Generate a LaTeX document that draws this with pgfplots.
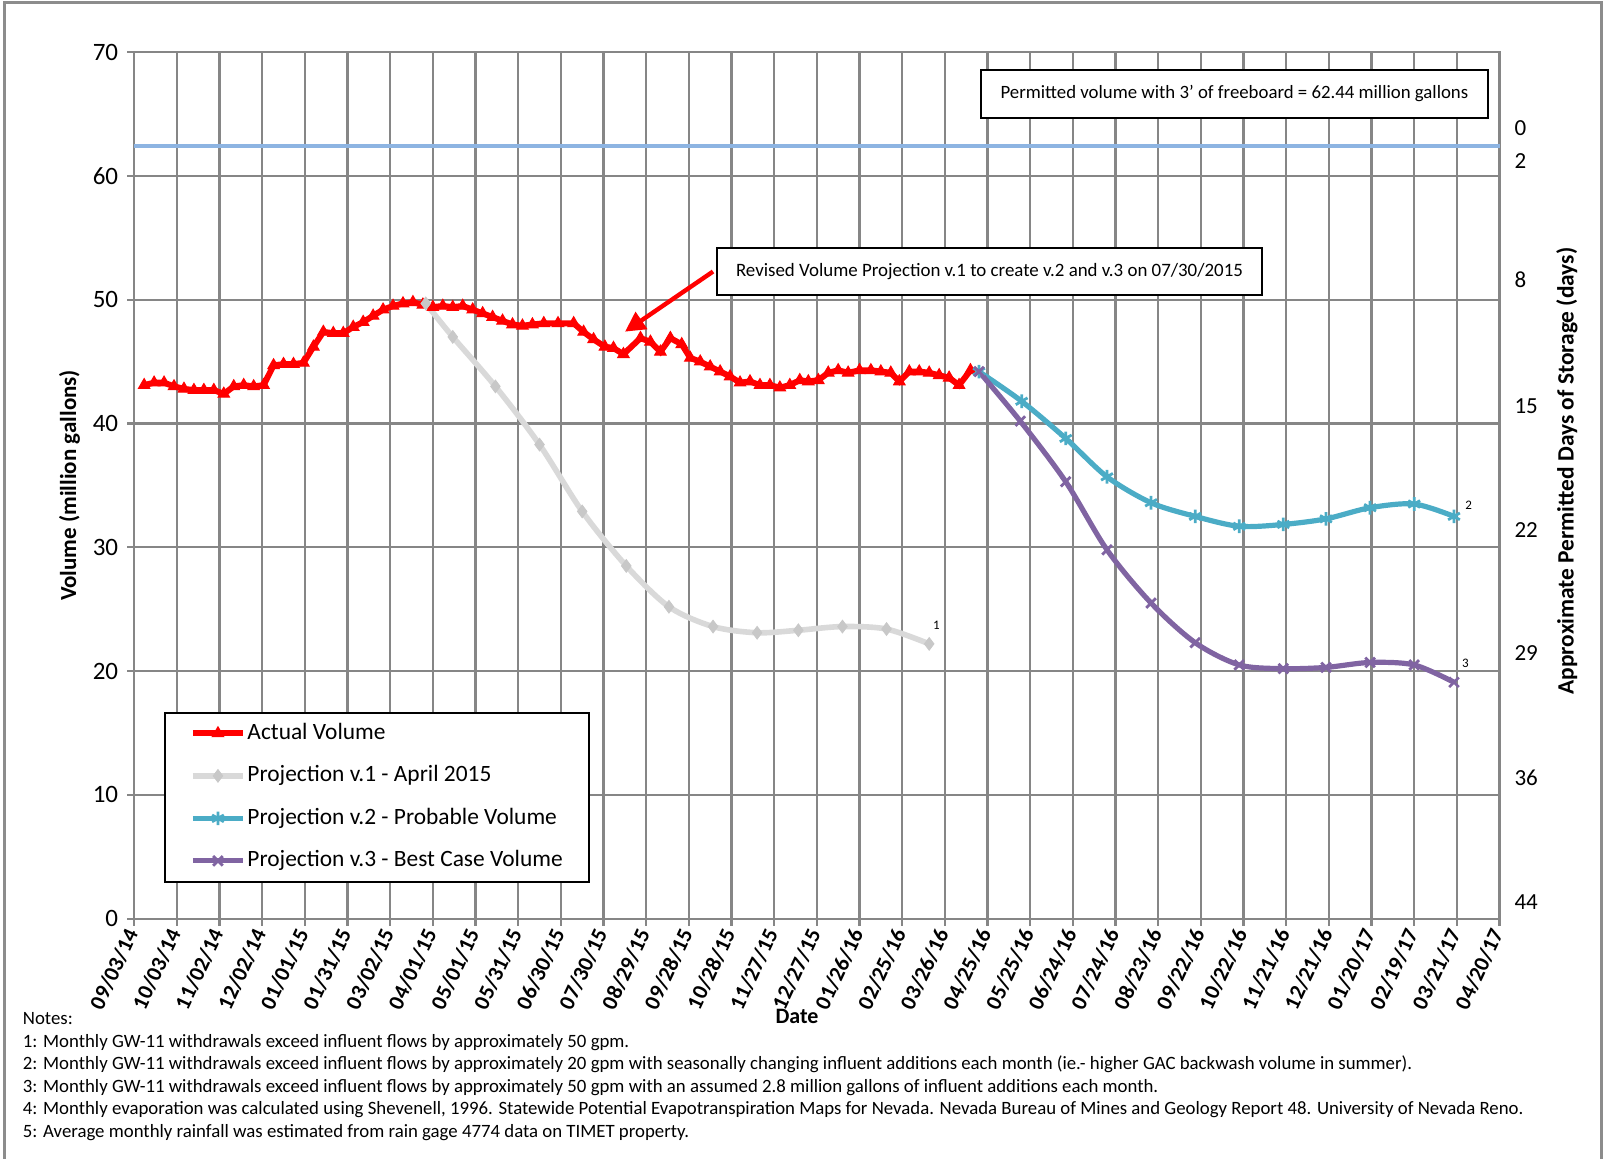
\documentclass[border=0pt]{standalone}
\usepackage{pgfplots}
\pgfplotsset{compat=1.18}
\usepackage{fontspec}
\setmainfont{Carlito}
\usetikzlibrary{arrows.meta}
\definecolor{gridgray}{RGB}{134,134,134}
\definecolor{framegray}{RGB}{140,140,140}
\definecolor{projgray}{RGB}{217,217,217}
\definecolor{projgraymark}{RGB}{200,200,200}
\definecolor{tealx}{RGB}{75,172,198}
\definecolor{purplex}{RGB}{128,100,162}
\definecolor{permblue}{RGB}{141,180,226}
\begin{document}
\begin{tikzpicture}
\useasboundingbox (-67.1pt,-120.15pt) rectangle (735.9pt,459.35pt);
\draw[framegray, line width=1.5pt] (-64.6pt,-121pt) -- (-64.6pt,457.85pt) -- (733.85pt,457.85pt) -- (733.85pt,-121pt);
\begin{axis}[
  at={(0pt,0pt)}, anchor=south west,
  scale only axis, width=682.65pt, height=433.25pt,
  xmin=0, xmax=960, ymin=0, ymax=70,
  xtick={0,30,...,960},
  xticklabels={09/03/14,10/03/14,11/02/14,12/02/14,01/01/15,01/31/15,03/02/15,04/01/15,05/01/15,05/31/15,06/30/15,07/30/15,08/29/15,09/28/15,10/28/15,11/27/15,12/27/15,01/26/16,02/25/16,03/26/16,04/25/16,05/25/16,06/24/16,07/24/16,08/23/16,09/22/16,10/22/16,11/21/16,12/21/16,01/20/17,02/19/17,03/21/17,04/20/17},
  ytick={0,10,...,70},
  grid=major,
  major grid style={draw=gridgray, line width=1.15pt},
  axis line style={draw=gridgray, line width=1.15pt},
  tick style={draw=gridgray, line width=1.15pt},
  tick align=outside, major tick length=3.5pt, tick pos=left,
  /pgf/number format/assume math mode=true,
  yticklabel style={font=\fontsize{12.5}{14}\selectfont, xshift=-1pt},
  xticklabel style={font=\bfseries\fontsize{11}{13}\selectfont, rotate=65, anchor=east, xshift=1pt},
  clip=false,
  legend style={at={(0.0218,0.2389)}, anchor=north west, draw=black, line width=1pt, fill=white,
    font=\fontsize{11.7}{13}\selectfont, inner xsep=12.5pt, inner ysep=4.1pt, row sep=8.75pt,
    nodes={inner sep=0.75pt, text height=8.5pt, text depth=2.5pt}, cells={anchor=west}},
  legend image code/.code={\draw[mark repeat=2,mark phase=2] plot coordinates {(0pt,0pt) (12.5pt,0pt) (25pt,0pt)};},
]
\addplot[permblue, line width=2pt, forget plot] coordinates {(0,62.44) (960,62.44)};
\addplot[red, line width=3pt, mark=triangle*, mark size=3.3pt, mark options={solid, line width=0.5pt}] coordinates {
(7,43.1) (14,43.3) (21,43.3) (28,43.0) (35,42.8) (42,42.7) (49,42.7) (56,42.7) (63,42.4) (70,43.0) (77,43.1) (84,43.0) (91,43.1) (98,44.7) (105,44.8) (112,44.8) (119,44.9) (126,46.2) (133,47.4) (140,47.3) (147,47.3) (154,47.8) (161,48.2) (168,48.7) (175,49.2) (182,49.5) (189,49.7) (196,49.8) (203,49.6) (210,49.4) (217,49.5) (224,49.4) (231,49.5) (238,49.2) (245,48.9) (252,48.6) (259,48.3) (266,48.0) (273,47.9) (280,48.0) (288,48.1) (298,48.1) (309,48.1) (316,47.4) (323,46.8) (331,46.2) (337,46.1) (344,45.6) (356,46.9) (363,46.6) (370,45.8) (377,46.9) (385,46.4) (391,45.3) (398,45.0) (405,44.6) (412,44.2) (419,43.8) (426,43.3) (433,43.4) (440,43.1) (447,43.1) (454,42.9) (461,43.1) (468,43.5) (474,43.4) (481,43.5) (488,44.1) (495,44.3) (502,44.1) (510,44.3) (518,44.3) (525,44.2) (532,44.1) (538,43.4) (545,44.2) (552,44.2) (559,44.1) (566,43.9) (573,43.7) (580,43.1) (588,44.3)
};
\addlegendentry{Actual Volume}
\addplot[projgray, line width=2.8pt, smooth, mark=diamond*, mark size=3.2pt, mark options={solid, draw=projgraymark, fill=projgraymark, line width=0.4pt}] coordinates {
(205,49.7) (224,47.0) (254,43.0) (285,38.3) (315,32.9) (346,28.5) (376,25.2) (407,23.6) (438,23.1) (467,23.3) (498,23.6) (529,23.4) (559,22.2)
};
\addlegendentry{Projection v.1 - April 2015}
\addplot[tealx, line width=2.6pt, smooth, mark=asterisk, mark size=3.4pt, mark options={solid, line width=1.4pt}] coordinates {
(594,44.2) (624,41.8) (655,38.8) (684,35.7) (715,33.6) (746,32.5) (777,31.7) (808,31.85) (838,32.3) (869,33.2) (900,33.5) (928,32.5)
};
\addlegendentry{Projection v.2 - Probable Volume}
\addplot[purplex, line width=2.6pt, smooth, mark=x, mark size=3.4pt, mark options={solid, line width=1.4pt}] coordinates {
(594,44.2) (623,40.2) (655,35.3) (684,29.8) (715,25.5) (746,22.3) (777,20.5) (808,20.2) (838,20.3) (869,20.7) (900,20.5) (928,19.1)
};
\addlegendentry{Projection v.3 - Best Case Volume}
\node[draw=black, line width=1pt, fill=white, minimum width=253.5pt, minimum height=24.1pt, inner sep=0pt, font=\fontsize{9.4}{11}\selectfont] at (axis cs:773.6,66.65) {Permitted volume with 3' of freeboard = 62.44 million gallons};
\node[draw=black, line width=1pt, fill=white, minimum width=272.5pt, minimum height=23.55pt, inner sep=0pt, font=\fontsize{9.45}{11}\selectfont] at (axis cs:601.4,52.285) {Revised Volume Projection v.1 to create v.2 and v.3 on 07/30/2015};
\draw[red, line width=2.2pt, -{Triangle[length=10pt,width=10pt]}] (axis cs:407,52.28) -- (axis cs:345.1,47.42);
\node[font=\fontsize{6.5}{7}\selectfont] at (axis cs:564,23.7) {1};
\node[font=\fontsize{6.5}{7}\selectfont] at (axis cs:938.3,33.4) {2};
\node[font=\fontsize{6.5}{7}\selectfont] at (axis cs:936,20.6) {3};
\end{axis}
\begin{axis}[
  at={(0pt,0pt)}, anchor=south west,
  scale only axis, width=682.65pt, height=433.25pt,
  xmin=0, xmax=960, ymin=0, ymax=70,
  hide x axis, axis y line*=right,
  y axis line style={draw=none}, ytick style={draw=none}, major tick length=0pt,
  ytick={63.87,61.23,51.58,41.37,31.36,21.44,11.35,1.32},
  yticklabels={0,2,8,15,22,29,36,44},
  yticklabel style={font=\fontsize{11.5}{13}\selectfont, xshift=4pt},
]
\addplot[draw=none] coordinates {(0,0) (960,70)};
\end{axis}
\node[rotate=90, font=\bfseries\fontsize{11.5}{13}\selectfont] at (-32.3pt,216.6pt) {Volume (million gallons)};
\node[rotate=90, font=\bfseries\fontsize{11.7}{13}\selectfont] at (716.4pt,223.85pt) {Approximate Permitted Days of Storage (days)};
\node[font=\bfseries\fontsize{11}{13}\selectfont] at (331.4pt,-48.65pt) {Date};
\begin{scope}[every node/.style={anchor=base west, inner sep=0pt, font=\fontsize{9.4}{11}\selectfont}]
\node at (-55.85pt,-53.15pt) {Notes:};
\node at (-55.85pt,-64.45pt) {1: Monthly GW-11 withdrawals exceed influent flows by approximately 50 gpm.};
\node at (-55.85pt,-75.65pt) {2: Monthly GW-11 withdrawals exceed influent flows by approximately 20 gpm with seasonally changing influent additions each month (ie.- higher GAC backwash volume in summer).};
\node at (-55.85pt,-87.0pt) {3: Monthly GW-11 withdrawals exceed influent flows by approximately 50 gpm with an assumed 2.8 million gallons of influent additions each month.};
\node at (-55.85pt,-98.15pt) {4: Monthly evaporation was calculated using Shevenell, 1996. Statewide Potential Evapotranspiration Maps for Nevada. Nevada Bureau of Mines and Geology Report 48. University of Nevada Reno.};
\node at (-55.85pt,-109.5pt) {5: Average monthly rainfall was estimated from rain gage 4774 data on TIMET property.};
\end{scope}
\end{tikzpicture}
\end{document}
